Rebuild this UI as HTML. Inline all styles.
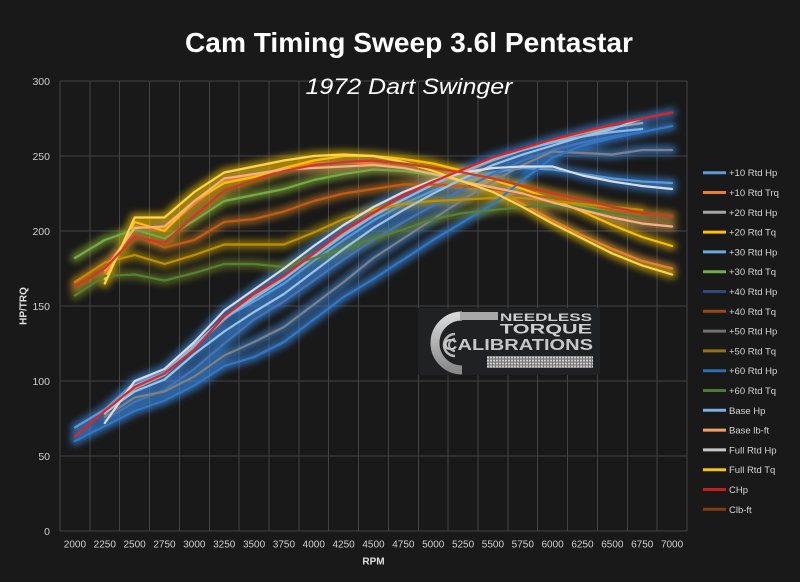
<!DOCTYPE html>
<html>
<head>
<meta charset="utf-8">
<style>
  html,body{margin:0;padding:0;background:#191919;}
  svg{display:block;}
  text{font-family:"Liberation Sans",Arial,sans-serif;}
</style>
</head>
<body>
<svg width="800" height="582" viewBox="0 0 800 582" xmlns="http://www.w3.org/2000/svg">
  <defs>
    <filter id="glow" filterUnits="userSpaceOnUse" x="0" y="0" width="800" height="582">
      <feGaussianBlur stdDeviation="3.4"/>
    </filter>
    <linearGradient id="silver" x1="0" y1="0" x2="0" y2="1">
      <stop offset="0" stop-color="#d8d8d8"/>
      <stop offset="1" stop-color="#8a8a8a"/>
    </linearGradient>
    <pattern id="stripes" width="3" height="3" patternUnits="userSpaceOnUse">
      <rect width="3" height="3" fill="#9a9a9a"/>
      <rect width="3" height="1" fill="#d0d0d0"/>
      <rect x="0" y="0" width="1" height="3" fill="#777"/>
    </pattern>
  </defs>

  <rect x="0" y="0" width="800" height="582" fill="#191919"/>

  <!-- Titles -->
  <text x="409" y="52" text-anchor="middle" font-size="28" font-weight="bold" fill="#ffffff" textLength="448" lengthAdjust="spacingAndGlyphs">Cam Timing Sweep 3.6l Pentastar</text>

  <!-- Grid -->
  <g stroke="#434343" stroke-width="1" fill="none" shape-rendering="crispEdges">
    <line x1="60" y1="81" x2="687" y2="81"/>
    <line x1="60" y1="156" x2="687" y2="156"/>
    <line x1="60" y1="231" x2="687" y2="231"/>
    <line x1="60" y1="306" x2="687" y2="306"/>
    <line x1="60" y1="381" x2="687" y2="381"/>
    <line x1="60" y1="456" x2="687" y2="456"/>
    <line x1="60" y1="531" x2="687" y2="531"/>
    <line x1="60" y1="81" x2="60" y2="531"/>
    <line x1="89.86" y1="81" x2="89.86" y2="531"/>
    <line x1="119.71" y1="81" x2="119.71" y2="531"/>
    <line x1="149.57" y1="81" x2="149.57" y2="531"/>
    <line x1="179.43" y1="81" x2="179.43" y2="531"/>
    <line x1="209.29" y1="81" x2="209.29" y2="531"/>
    <line x1="239.14" y1="81" x2="239.14" y2="531"/>
    <line x1="269" y1="81" x2="269" y2="531"/>
    <line x1="298.86" y1="81" x2="298.86" y2="531"/>
    <line x1="328.71" y1="81" x2="328.71" y2="531"/>
    <line x1="358.57" y1="81" x2="358.57" y2="531"/>
    <line x1="388.43" y1="81" x2="388.43" y2="531"/>
    <line x1="418.29" y1="81" x2="418.29" y2="531"/>
    <line x1="448.14" y1="81" x2="448.14" y2="531"/>
    <line x1="478" y1="81" x2="478" y2="531"/>
    <line x1="507.86" y1="81" x2="507.86" y2="531"/>
    <line x1="537.71" y1="81" x2="537.71" y2="531"/>
    <line x1="567.57" y1="81" x2="567.57" y2="531"/>
    <line x1="597.43" y1="81" x2="597.43" y2="531"/>
    <line x1="627.29" y1="81" x2="627.29" y2="531"/>
    <line x1="657.14" y1="81" x2="657.14" y2="531"/>
    <line x1="687" y1="81" x2="687" y2="531"/>
  </g>

  <text x="409" y="94" text-anchor="middle" font-size="22" font-style="italic" fill="#ffffff" textLength="207" lengthAdjust="spacingAndGlyphs">1972 Dart Swinger</text>

  <!-- Logo -->
  <g>
    <rect x="418" y="308" width="182" height="67" fill="#202123"/>
    <path d="M 462 316 A 26 26 0 1 0 462 370" fill="none" stroke="url(#silver)" stroke-width="9"/>
    <rect x="460" y="312" width="38" height="8" fill="#a8a8a8"/>
    <path d="M 455 334 A 11 11 0 1 0 455 356" fill="none" stroke="#b8b8b8" stroke-width="2.5"/>
    <path d="M 455 339 A 6 6 0 1 0 455 351" fill="none" stroke="#b8b8b8" stroke-width="2"/>
    <text x="500" y="321" font-size="11" font-weight="bold" fill="#cfcfcf" textLength="92" lengthAdjust="spacingAndGlyphs">NEEDLESS</text>
    <text x="500" y="333.5" font-size="13.5" font-weight="bold" fill="#cfcfcf" textLength="92" lengthAdjust="spacingAndGlyphs">TORQUE</text>
    <text x="443" y="350" font-size="16" font-weight="bold" fill="#c8c8c8" textLength="150" lengthAdjust="spacingAndGlyphs">CALIBRATIONS</text>
    <rect x="487" y="356" width="106" height="12" fill="url(#stripes)"/>
  </g>

  <!-- Glow: HP group (blue) -->
  <g filter="url(#glow)" opacity="0.62">
    <g transform="translate(74.93 531) scale(29.857 -1.5)" fill="none" stroke="#3c8fec" stroke-width="9" stroke-linejoin="round" stroke-linecap="round">
      <polyline vector-effect="non-scaling-stroke" points="0,69 1,81 2,99 3,106 4,124 5,142 6,153 7,165 8,180 9,194 10,207 11,218 12,227 13,234 14,239 15,242 16,241 17,238 18,235 19,233 20,232"/>
      <polyline vector-effect="non-scaling-stroke" points="1,78 2,95 3,104 4,123 5,141 6,157 7,169 8,184 9,198 10,211 11,221 12,231 13,239 14,247 15,254 16,260 17,265 18,269 19,272"/>
      <polyline vector-effect="non-scaling-stroke" points="1,80 2,97 3,105 4,124 5,142 6,155 7,168 8,183 9,197 10,210 11,221 12,231 13,240 14,248 15,254 16,259 17,263 18,266 19,268"/>
      <polyline vector-effect="non-scaling-stroke" points="1,74 2,86 3,94 4,108 5,125 6,141 7,153 8,167 9,181 10,194 11,206 12,217 13,228 14,238 15,247 16,254 17,259 18,263 19,266"/>
      <polyline vector-effect="non-scaling-stroke" points="1,76 2,89 3,93 4,103 5,117 6,126 7,136 8,151 9,166 10,182 11,195 12,208 13,221 14,233 15,244 16,253 17,252 18,251 19,254 20,254"/>
      <polyline vector-effect="non-scaling-stroke" points="0,60 1,70 2,80 3,87 4,97 5,110 6,116 7,126 8,141 9,156 10,168 11,181 12,194 13,206 14,218 15,234 16,249 17,257 18,262 19,266 20,270"/>
      <polyline vector-effect="non-scaling-stroke" points="1,79 2,93 3,101 4,118 5,133 6,146 7,158 8,173 9,188 10,202 11,214 12,225 13,235 14,244 15,251 16,257 17,263 18,268 19,275"/>
      <polyline vector-effect="non-scaling-stroke" points="1,72 2,100 3,108 4,126 5,147 6,161 7,175 8,190 9,204 10,216 11,226 12,234 13,239 14,242 15,243 16,243 17,237 18,233 19,230 20,228"/>
      <polyline vector-effect="non-scaling-stroke" points="0,63 1,80 2,96 3,105 4,121 5,143 6,158 7,170 8,185 9,200 10,212 11,224 12,233 13,241 14,249 15,255 16,261 17,266 18,271 19,275 20,279"/>
    </g>
  </g>

  <!-- Glow: torque group -->
  <g filter="url(#glow)" opacity="0.58">
    <g transform="translate(74.93 531) scale(29.857 -1.5)" fill="none" stroke-width="9" stroke-linejoin="round" stroke-linecap="round">
      <polyline vector-effect="non-scaling-stroke" stroke="#7a8a20" points="0,157 1,170 2,171 3,167 4,172 5,178 6,178 7,176 8,182 9,188 10,195 11,201 12,208 13,212 14,214 15,216 16,217 17,215 18,212 19,209"/>
      <polyline vector-effect="non-scaling-stroke" stroke="#c8a000" points="0,166 1,179 2,184 3,178 4,184 5,191 6,191 7,191 8,199 9,208 10,214 11,218 12,220 13,221 14,222 15,222 16,220 17,218 18,216 19,214"/>
      <polyline vector-effect="non-scaling-stroke" stroke="#d08020" points="0,165 1,178 2,197 3,189 4,194 5,206 6,208 7,213 8,220 9,225 10,228 11,231 12,231 13,230 14,228 15,225 16,222 17,218 18,214 19,211"/>
      <polyline vector-effect="non-scaling-stroke" stroke="#9ac030" points="0,182 1,194 2,201 3,195 4,207 5,220 6,224 7,228 8,234 9,238 10,241 11,240 12,237 13,233 14,229 15,225 16,221 17,217 18,214 19,212"/>
      <polyline vector-effect="non-scaling-stroke" stroke="#e8b020" points="0,163 1,175 2,196 3,192 4,210 5,227 6,234 7,240 8,244 9,246 10,247 11,245 12,242 13,239 14,235 15,230 16,225 17,221 18,216 19,212 20,210"/>
      <polyline vector-effect="non-scaling-stroke" stroke="#f0a040" points="1,172 2,203 3,201 4,218 5,233 6,237 7,242 8,245 9,246 10,245 11,242 12,238 13,233 14,228 15,218 16,207 17,197 18,188 19,180 20,175"/>
      <polyline vector-effect="non-scaling-stroke" stroke="#f0b060" points="1,174 2,202 3,203 4,220 5,235 6,238 7,241 8,242 9,243 10,244 11,242 12,238 13,233 14,229 15,225 16,219 17,214 18,209 19,205 20,203"/>
      <polyline vector-effect="non-scaling-stroke" stroke="#ffc800" points="1,168 2,206 3,200 4,220 5,232 6,236 7,242 8,247 9,250 10,250 11,248 12,245 13,240 14,234 15,228 16,221 17,213 18,204 19,196 20,190"/>
      <polyline vector-effect="non-scaling-stroke" stroke="#ffd000" points="1,165 2,209 3,209 4,226 5,239 6,243 7,247 8,250 9,251 10,250 11,246 12,240 13,233 14,226 15,216 16,205 17,195 18,185 19,177 20,171"/>
    </g>
  </g>

  <!-- Crisp lines (legend order) -->
  <g transform="translate(74.93 531) scale(29.857 -1.5)" fill="none" stroke-width="2.2" stroke-linejoin="round" stroke-linecap="round">
    <polyline vector-effect="non-scaling-stroke" stroke="#5b9bd5" points="0,69 1,81 2,99 3,106 4,124 5,142 6,153 7,165 8,180 9,194 10,207 11,218 12,227 13,234 14,239 15,242 16,241 17,238 18,235 19,233 20,232"/>
    <polyline vector-effect="non-scaling-stroke" stroke="#ed7d31" points="1,172 2,203 3,201 4,218 5,233 6,237 7,242 8,245 9,246 10,245 11,242 12,238 13,233 14,228 15,218 16,207 17,197 18,188 19,180 20,175"/>
    <polyline vector-effect="non-scaling-stroke" stroke="#a5a5a5" points="1,78 2,95 3,104 4,123 5,141 6,157 7,169 8,184 9,198 10,211 11,221 12,231 13,239 14,247 15,254 16,260 17,265 18,269 19,272"/>
    <polyline vector-effect="non-scaling-stroke" stroke="#ffc000" points="1,168 2,206 3,200 4,220 5,232 6,236 7,242 8,247 9,250 10,250 11,248 12,245 13,240 14,234 15,228 16,221 17,213 18,204 19,196 20,190"/>
    <polyline vector-effect="non-scaling-stroke" stroke="#8ab8e6" points="1,80 2,97 3,105 4,124 5,142 6,155 7,168 8,183 9,197 10,210 11,221 12,231 13,240 14,248 15,254 16,259 17,263 18,266 19,268"/>
    <polyline vector-effect="non-scaling-stroke" stroke="#70ad47" points="0,182 1,194 2,201 3,195 4,207 5,220 6,224 7,228 8,234 9,238 10,241 11,240 12,237 13,233 14,229 15,225 16,221 17,217 18,214 19,212"/>
    <polyline vector-effect="non-scaling-stroke" stroke="#4373b8" points="1,74 2,86 3,94 4,108 5,125 6,141 7,153 8,167 9,181 10,194 11,206 12,217 13,228 14,238 15,247 16,254 17,259 18,263 19,266"/>
    <polyline vector-effect="non-scaling-stroke" stroke="#c55a11" points="0,165 1,178 2,197 3,189 4,194 5,206 6,208 7,213 8,220 9,225 10,228 11,231 12,231 13,230 14,228 15,225 16,222 17,218 18,214 19,211"/>
    <polyline vector-effect="non-scaling-stroke" stroke="#808080" points="1,76 2,89 3,93 4,103 5,117 6,126 7,136 8,151 9,166 10,182 11,195 12,208 13,221 14,233 15,244 16,253 17,252 18,251 19,254 20,254"/>
    <polyline vector-effect="non-scaling-stroke" stroke="#bf9000" points="0,166 1,179 2,184 3,178 4,184 5,191 6,191 7,191 8,199 9,208 10,214 11,218 12,220 13,221 14,222 15,222 16,220 17,218 18,216 19,214"/>
    <polyline vector-effect="non-scaling-stroke" stroke="#2f78c8" points="0,60 1,70 2,80 3,87 4,97 5,110 6,116 7,126 8,141 9,156 10,168 11,181 12,194 13,206 14,218 15,234 16,249 17,257 18,262 19,266 20,270"/>
    <polyline vector-effect="non-scaling-stroke" stroke="#548235" points="0,157 1,170 2,171 3,167 4,172 5,178 6,178 7,176 8,182 9,188 10,195 11,201 12,208 13,212 14,214 15,216 16,217 17,215 18,212 19,209"/>
    <polyline vector-effect="non-scaling-stroke" stroke="#9dc3e6" points="1,79 2,93 3,101 4,118 5,133 6,146 7,158 8,173 9,188 10,202 11,214 12,225 13,235 14,244 15,251 16,257 17,263 18,268 19,275"/>
    <polyline vector-effect="non-scaling-stroke" stroke="#f4b183" points="1,174 2,202 3,203 4,220 5,235 6,238 7,241 8,242 9,243 10,244 11,242 12,238 13,233 14,229 15,225 16,219 17,214 18,209 19,205 20,203"/>
    <polyline vector-effect="non-scaling-stroke" stroke="#dcdcdc" points="1,72 2,100 3,108 4,126 5,147 6,161 7,175 8,190 9,204 10,216 11,226 12,234 13,239 14,242 15,243 16,243 17,237 18,233 19,230 20,228"/>
    <polyline vector-effect="non-scaling-stroke" stroke="#ffd54a" points="1,165 2,209 3,209 4,226 5,239 6,243 7,247 8,250 9,251 10,250 11,246 12,240 13,233 14,226 15,216 16,205 17,195 18,185 19,177 20,171"/>
    <polyline vector-effect="non-scaling-stroke" stroke="#e82020" points="0,63 1,80 2,96 3,105 4,121 5,143 6,158 7,170 8,185 9,200 10,212 11,224 12,233 13,241 14,249 15,255 16,261 17,266 18,271 19,275 20,279"/>
    <polyline vector-effect="non-scaling-stroke" stroke="#d0382a" points="0,163 1,175 2,196 3,192 4,210 5,227 6,234 7,240 8,244 9,246 10,247 11,245 12,242 13,239 14,235 15,230 16,225 17,221 18,216 19,212 20,210"/>
  </g>

  <!-- Y axis labels -->
  <g font-size="10.5" fill="#d0d0d0" text-anchor="end">
    <text x="50" y="85">300</text>
    <text x="50" y="160">250</text>
    <text x="50" y="235">200</text>
    <text x="50" y="310">150</text>
    <text x="50" y="385">100</text>
    <text x="50" y="460">50</text>
    <text x="50" y="535">0</text>
  </g>

  <!-- X axis labels -->
  <g font-size="10" fill="#d0d0d0" text-anchor="middle">
    <text x="74.93" y="547.5">2000</text>
    <text x="104.79" y="547.5">2250</text>
    <text x="134.64" y="547.5">2500</text>
    <text x="164.5" y="547.5">2750</text>
    <text x="194.36" y="547.5">3000</text>
    <text x="224.21" y="547.5">3250</text>
    <text x="254.07" y="547.5">3500</text>
    <text x="283.93" y="547.5">3750</text>
    <text x="313.79" y="547.5">4000</text>
    <text x="343.64" y="547.5">4250</text>
    <text x="373.5" y="547.5">4500</text>
    <text x="403.36" y="547.5">4750</text>
    <text x="433.21" y="547.5">5000</text>
    <text x="463.07" y="547.5">5250</text>
    <text x="492.93" y="547.5">5500</text>
    <text x="522.79" y="547.5">5750</text>
    <text x="552.64" y="547.5">6000</text>
    <text x="582.5" y="547.5">6250</text>
    <text x="612.36" y="547.5">6500</text>
    <text x="642.21" y="547.5">6750</text>
    <text x="672.07" y="547.5">7000</text>
  </g>

  <text x="373.5" y="564.5" text-anchor="middle" font-size="10" font-weight="bold" fill="#e0e0e0">RPM</text>
  <text transform="translate(26.5 306) rotate(-90)" text-anchor="middle" font-size="10" font-weight="bold" fill="#e0e0e0">HP/TRQ</text>

  <!-- Legend -->
  <g stroke-width="3" fill="none">
    <line x1="703" y1="172.7" x2="726" y2="172.7" stroke="#5b9bd5"/>
    <line x1="703" y1="192.5" x2="726" y2="192.5" stroke="#ed7d31"/>
    <line x1="703" y1="212.3" x2="726" y2="212.3" stroke="#a5a5a5"/>
    <line x1="703" y1="232.1" x2="726" y2="232.1" stroke="#ffc000"/>
    <line x1="703" y1="251.9" x2="726" y2="251.9" stroke="#6fa8dc"/>
    <line x1="703" y1="271.7" x2="726" y2="271.7" stroke="#70ad47"/>
    <line x1="703" y1="291.5" x2="726" y2="291.5" stroke="#2a4a7c"/>
    <line x1="703" y1="311.3" x2="726" y2="311.3" stroke="#9e480e"/>
    <line x1="703" y1="331.1" x2="726" y2="331.1" stroke="#6f6f6f"/>
    <line x1="703" y1="350.9" x2="726" y2="350.9" stroke="#997300"/>
    <line x1="703" y1="370.7" x2="726" y2="370.7" stroke="#2e6db0"/>
    <line x1="703" y1="390.5" x2="726" y2="390.5" stroke="#4f7a30"/>
    <line x1="703" y1="410.3" x2="726" y2="410.3" stroke="#7cafdd"/>
    <line x1="703" y1="430.1" x2="726" y2="430.1" stroke="#f4a060"/>
    <line x1="703" y1="449.9" x2="726" y2="449.9" stroke="#c8c8c8"/>
    <line x1="703" y1="469.7" x2="726" y2="469.7" stroke="#f5c518"/>
    <line x1="703" y1="489.5" x2="726" y2="489.5" stroke="#c0201f"/>
    <line x1="703" y1="509.3" x2="726" y2="509.3" stroke="#843c0c"/>
  </g>
  <g font-size="9.5" fill="#d6d6d6">
    <text x="729" y="176.2">+10 Rtd Hp</text>
    <text x="729" y="196">+10 Rtd Trq</text>
    <text x="729" y="215.8">+20 Rtd Hp</text>
    <text x="729" y="235.6">+20 Rtd Tq</text>
    <text x="729" y="255.4">+30 Rtd Hp</text>
    <text x="729" y="275.2">+30 Rtd Tq</text>
    <text x="729" y="295">+40 Rtd Hp</text>
    <text x="729" y="314.8">+40 Rtd Tq</text>
    <text x="729" y="334.6">+50 Rtd Hp</text>
    <text x="729" y="354.4">+50 Rtd Tq</text>
    <text x="729" y="374.2">+60 Rtd Hp</text>
    <text x="729" y="394">+60 Rtd Tq</text>
    <text x="729" y="413.8">Base Hp</text>
    <text x="729" y="433.6">Base lb-ft</text>
    <text x="729" y="453.4">Full Rtd Hp</text>
    <text x="729" y="473.2">Full Rtd Tq</text>
    <text x="729" y="493">CHp</text>
    <text x="729" y="512.8">Clb-ft</text>
  </g>
</svg>
</body>
</html>
